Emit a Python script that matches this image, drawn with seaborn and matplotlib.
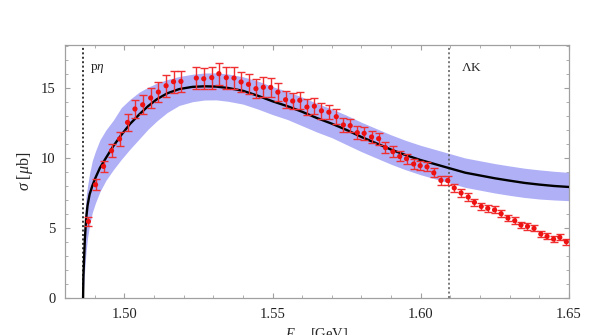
import numpy as np
import pandas as pd
import matplotlib
matplotlib.use("Agg")
import matplotlib.pyplot as plt
import seaborn as sns
from matplotlib.ticker import MultipleLocator, FixedLocator

# ---- data ----
E_data = [1.4879, 1.4903, 1.4930, 1.4957, 1.4984, 1.5011, 1.5036, 1.5062, 1.5089, 1.5115,
          1.5141, 1.5166, 1.5191,
          1.5243, 1.5268, 1.5295, 1.5319, 1.5344, 1.5370, 1.5394, 1.5419, 1.5444, 1.5469,
          1.5494, 1.5518, 1.5544, 1.5568, 1.5592, 1.5616, 1.5641, 1.5665, 1.5690,
          1.5715, 1.5739, 1.5762, 1.5786, 1.5809, 1.5834, 1.5858, 1.5881, 1.5906, 1.5929,
          1.5952, 1.5976, 1.5998, 1.6021, 1.6044, 1.6068, 1.6091,
          1.6113, 1.6136, 1.6160, 1.6181, 1.6204, 1.6226, 1.6249, 1.6271, 1.6294, 1.6317,
          1.6338, 1.6360, 1.6382, 1.6405, 1.6426, 1.6448, 1.6469, 1.6491]
sigma_data = [5.47, 8.09, 9.40, 10.52, 11.36, 12.54, 13.50, 13.80, 14.29, 14.71, 15.16, 15.45, 15.47,
              15.71, 15.66, 15.74, 16.02, 15.74, 15.71, 15.43, 15.26, 14.95, 15.05, 15.04, 14.70,
              14.16, 14.07, 14.12, 13.64, 13.70, 13.37, 13.27,
              12.95, 12.36, 12.31, 11.81, 11.76, 11.50, 11.38, 10.74, 10.45, 10.11, 9.95, 9.57,
              9.45, 9.37, 8.94, 8.40, 8.39,
              7.86, 7.50, 7.21, 6.83, 6.54, 6.40, 6.29, 6.02, 5.71, 5.52, 5.21, 5.11, 4.97,
              4.57, 4.40, 4.21, 4.33, 4.02]
sigma_err = [0.30, 0.40, 0.42, 0.48, 0.52, 0.60, 0.65, 0.68, 0.70, 0.72, 0.78, 0.78, 0.75,
             0.78, 0.75, 0.78, 0.80, 0.78, 0.78, 0.72, 0.72, 0.68, 0.70, 0.70, 0.65, 0.62, 0.60,
             0.62, 0.55, 0.58, 0.55, 0.52,
             0.52, 0.48, 0.48, 0.45, 0.45, 0.42, 0.42, 0.40, 0.40, 0.36, 0.36, 0.34, 0.33, 0.33,
             0.32, 0.30, 0.30,
             0.28, 0.28, 0.27, 0.26, 0.26, 0.25, 0.25, 0.24, 0.24, 0.23, 0.23, 0.22, 0.22, 0.22,
             0.21, 0.21, 0.21, 0.20]

E_model = [1.4861, 1.4862, 1.4864, 1.4867, 1.4871, 1.4876, 1.4883, 1.4892, 1.4903, 1.4918,
           1.4938, 1.4963, 1.4990, 1.5020, 1.5050, 1.5080, 1.5110, 1.5145, 1.5185, 1.5230,
           1.5270, 1.5310, 1.5350, 1.5400, 1.5450, 1.5500, 1.5550, 1.5600, 1.5650, 1.5700,
           1.5750, 1.5800, 1.5850, 1.5900, 1.5950, 1.6000, 1.6050, 1.6100, 1.6150, 1.6200,
           1.6250, 1.6300, 1.6350, 1.6400, 1.6450, 1.6500]
sigma_model = [0.0, 1.5, 2.6, 4.2, 5.6, 6.6, 7.4, 8.0, 8.6, 9.3,
               10.0, 10.85, 11.65, 12.45, 13.1, 13.7, 14.2, 14.62, 14.92, 15.08,
               15.12, 15.10, 15.0, 14.8, 14.45, 14.05, 13.7, 13.3, 12.85, 12.45,
               12.0, 11.5, 11.05, 10.6, 10.2, 9.85, 9.55, 9.25, 8.95, 8.75,
               8.55, 8.38, 8.22, 8.10, 8.00, 7.93]
band_lo = [0.0, 0.4, 1.2, 2.2, 3.3, 4.3, 5.2, 6.1, 6.8, 7.6,
           8.4, 9.16, 9.9, 10.65, 11.35, 12.05, 12.65, 13.25, 13.75, 14.02,
           14.14, 14.15, 14.05, 13.85, 13.5, 13.1, 12.75, 12.3, 11.85, 11.45,
           10.95, 10.45, 10.0, 9.55, 9.15, 8.8, 8.5, 8.2, 7.9, 7.7,
           7.5, 7.33, 7.18, 7.07, 7.0, 6.95]
band_hi = [0.0, 2.5, 4.5, 6.0, 7.2, 8.0, 8.9, 9.8, 10.5, 11.3,
           12.0, 12.7, 13.6, 14.2, 14.7, 15.05, 15.35, 15.6, 15.82, 15.98,
           16.07, 16.08, 16.0, 15.8, 15.5, 15.1, 14.75, 14.35, 13.9, 13.5,
           13.05, 12.55, 12.1, 11.65, 11.25, 10.9, 10.6, 10.3, 10.0, 9.8,
           9.6, 9.43, 9.27, 9.15, 9.05, 8.97]

thresholds = [1.4861, 1.6094]
threshold_labels = [r"p$\eta$", r"$\Lambda$K"]

x_ticks = [1.50, 1.55, 1.60, 1.65]
y_ticks = [0, 5, 10, 15]

df_data = pd.DataFrame({"E": E_data, "sigma": sigma_data, "err": sigma_err})
df_model = pd.DataFrame({"E": E_model, "sigma": sigma_model, "lo": band_lo, "hi": band_hi})

# ---- style ----
sns.set_style("ticks")
plt.rcParams["font.family"] = ["Liberation Serif", "DejaVu Serif"]
plt.rcParams["mathtext.fontset"] = "custom"
plt.rcParams["mathtext.rm"] = "Liberation Serif"
plt.rcParams["mathtext.it"] = "Liberation Serif:italic"
plt.rcParams["mathtext.bf"] = "Liberation Serif:bold"

fig = plt.figure(figsize=(5.98, 3.35), dpi=100)
ax = fig.add_axes([65 / 598, 37 / 335, 504 / 598, 253 / 335])

ax.fill_between(df_model["E"], df_model["lo"], df_model["hi"],
                color="#b0b0f7", linewidth=0, zorder=1)
sns.lineplot(data=df_model, x="E", y="sigma", color="black", linewidth=1.7,
             ax=ax, zorder=3, sort=False)

ax.errorbar(df_data["E"], df_data["sigma"], yerr=df_data["err"], fmt="none",
            ecolor="#f03030", elinewidth=1.0, capsize=2.8, capthick=1.0, zorder=4)
sns.scatterplot(data=df_data, x="E", y="sigma", color="#ee1111", s=14,
                edgecolor="none", ax=ax, zorder=5)

ax.axvline(thresholds[0], color="black", linestyle=(0, (1.3, 1.6)), linewidth=1.1, zorder=2)
ax.axvline(thresholds[1], color="#555555", linestyle=(0, (1.3, 1.6)), linewidth=1.1, zorder=2)
ax.text(1.4885, 16.4, threshold_labels[0], fontsize=9.5, ha="left", va="center")
ax.text(1.6135, 16.4, threshold_labels[1], fontsize=9.5, ha="left", va="center")

ax.set_xlim(1.48, 1.65)
ax.set_ylim(0, 18.07)
ax.xaxis.set_major_locator(FixedLocator(x_ticks))
ax.yaxis.set_major_locator(FixedLocator(y_ticks))
ax.xaxis.set_minor_locator(MultipleLocator(0.01))
ax.yaxis.set_minor_locator(MultipleLocator(1))
ax.set_xticklabels(["%.2f" % t for t in x_ticks])
ax.set_yticklabels([str(t) for t in y_ticks])

for s in ax.spines.values():
    s.set_color("#a0a0a0")
    s.set_linewidth(0.9)
ax.tick_params(which="both", direction="in", top=True, right=True,
               color="#a0a0a0", labelsize=10.5, labelcolor="#222222")
ax.tick_params(which="major", length=3.5, width=0.8, pad=7)
ax.tick_params(which="minor", length=2.0, width=0.6)

ax.set_xlabel(r"$E_{cm}$ [GeV]", fontsize=10.5, labelpad=4)
ax.set_ylabel(r"$\sigma$ [$\mu$b]", fontsize=11.5, labelpad=4)

fig.savefig("out.png", dpi=100)
